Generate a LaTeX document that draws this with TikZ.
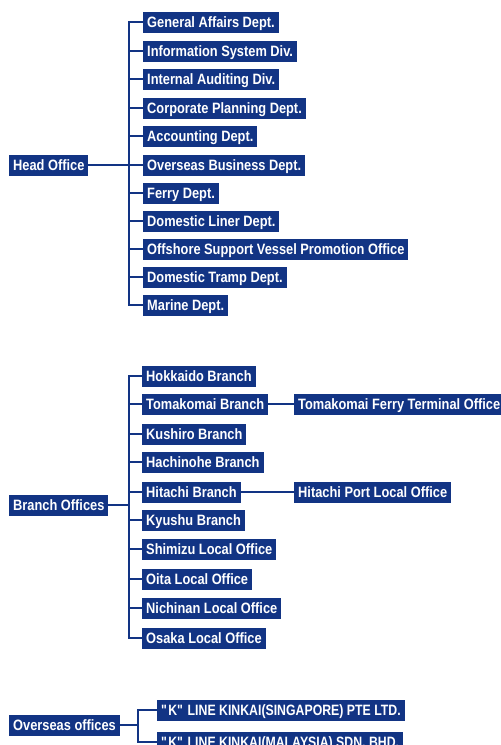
\documentclass[tikz,border=0pt]{standalone}
\usepackage{fontspec}
\setmainfont{Liberation Sans}[FakeStretch=0.855]
\newfontfamily\capsfont{Liberation Sans}[FakeStretch=0.82]
\usetikzlibrary{positioning}
\definecolor{orgblue}{RGB}{18,52,132}
\tikzstyle{unit} = [anchor=west, fill=orgblue, text=white,
  font=\bfseries\fontsize{15}{17}\selectfont, inner xsep=4pt, inner ysep=0pt,
  minimum height=21pt, text height=10.8pt, text depth=0pt]
\tikzstyle{capsunit} = [unit, font=\capsfont\bfseries\fontsize{15}{17}\selectfont]
\tikzstyle{link} = [orgblue, line width=2pt, line cap=rect]

\begin{document}
\begin{tikzpicture}[x=1pt, y=-1pt]
        \useasboundingbox (0,0) rectangle (501,745);

        % Head office
        \node (head) at (9,165) [unit] {Head Office};
        \node (ga) at (143,22) [unit] {General Affairs Dept.};
        \node (is) at (143,51) [unit] {Information System Div.};
        \node (ia) at (143,79) [unit] {Internal Auditing Div.};
        \node (cp) at (143,108) [unit] {Corporate Planning Dept.};
        \node (ac) at (143,136) [unit] {Accounting Dept.};
        \node (ob) at (143,165) [unit] {Overseas Business Dept.};
        \node (fd) at (143,193) [unit] {Ferry Dept.};
        \node (dl) at (143,221) [unit] {Domestic Liner Dept.};
        \node (os) at (143,249) [unit] {Offshore Support Vessel Promotion Office};
        \node (dt) at (143,277) [unit] {Domestic Tramp Dept.};
        \node (md) at (143,305) [unit] {Marine Dept.};

        % Lines of head office
        \coordinate (hs) at (129,0);
        \draw [link] (head.east) -- (head.east -| hs);
        \draw [link] (ga.west -| hs) -- (md.west -| hs);
        \draw [link] (ga.west -| hs) -- (ga.west);
        \draw [link] (is.west -| hs) -- (is.west);
        \draw [link] (ia.west -| hs) -- (ia.west);
        \draw [link] (cp.west -| hs) -- (cp.west);
        \draw [link] (ac.west -| hs) -- (ac.west);
        \draw [link] (ob.west -| hs) -- (ob.west);
        \draw [link] (fd.west -| hs) -- (fd.west);
        \draw [link] (dl.west -| hs) -- (dl.west);
        \draw [link] (os.west -| hs) -- (os.west);
        \draw [link] (dt.west -| hs) -- (dt.west);
        \draw [link] (md.west -| hs) -- (md.west);

        % Branch offices
        \node (branch) at (9,505) [unit] {Branch Offices};
        \node (hk) at (142,376) [unit] {Hokkaido Branch};
        \node (tm) at (142,404) [unit] {Tomakomai Branch};
        \node (ks) at (142,434) [unit] {Kushiro Branch};
        \node (hc) at (142,462) [unit] {Hachinohe Branch};
        \node (ht) at (142,492) [unit] {Hitachi Branch};
        \node (ky) at (142,520) [unit] {Kyushu Branch};
        \node (sh) at (142,549) [unit] {Shimizu Local Office};
        \node (oi) at (142,579) [unit] {Oita Local Office};
        \node (nc) at (142,608) [unit] {Nichinan Local Office};
        \node (ok) at (142,638) [unit] {Osaka Local Office};
        \node (tft) at (294,404) [unit] {Tomakomai Ferry Terminal Office};
        \node (hpl) at (294,492) [unit] {Hitachi Port Local Office};

        % Lines of branch offices
        \coordinate (bs) at (129,0);
        \draw [link] (branch.east) -- (branch.east -| bs);
        \draw [link] (hk.west -| bs) -- (ok.west -| bs);
        \draw [link] (hk.west -| bs) -- (hk.west);
        \draw [link] (tm.west -| bs) -- (tm.west);
        \draw [link] (ks.west -| bs) -- (ks.west);
        \draw [link] (hc.west -| bs) -- (hc.west);
        \draw [link] (ht.west -| bs) -- (ht.west);
        \draw [link] (ky.west -| bs) -- (ky.west);
        \draw [link] (sh.west -| bs) -- (sh.west);
        \draw [link] (oi.west -| bs) -- (oi.west);
        \draw [link] (nc.west -| bs) -- (nc.west);
        \draw [link] (ok.west -| bs) -- (ok.west);
        \draw [link] (tm.east) -- (tft.west);
        \draw [link] (ht.east) -- (hpl.west);

        % Overseas offices
        \node (overseas) at (9,725) [unit] {Overseas offices};
        \node (sg) at (157,710) [capsunit] {\textquotedbl K\textquotedbl{} LINE KINKAI(SINGAPORE) PTE LTD.};
        \node (my) at (157,742) [capsunit] {\textquotedbl K\textquotedbl{} LINE KINKAI(MALAYSIA) SDN, BHD,};

        % Lines of overseas offices
        \coordinate (vs) at (138,0);
        \draw [link] (overseas.east) -- (overseas.east -| vs);
        \draw [link] (sg.west -| vs) -- (my.west -| vs);
        \draw [link] (sg.west -| vs) -- (sg.west);
        \draw [link] (my.west -| vs) -- (my.west);
\end{tikzpicture}
\end{document}
